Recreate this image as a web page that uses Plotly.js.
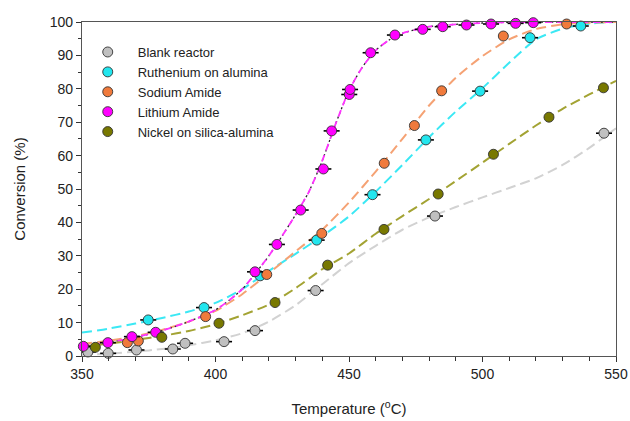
<!DOCTYPE html>
<html>
<head>
<meta charset="utf-8">
<script src="https://cdn.plot.ly/plotly-3.0.1.min.js"></script>
<style>html,body{margin:0;padding:0;background:#fff;}#chart{width:630px;height:421px;}</style>
</head>
<body>
<div id="chart"></div>
<script>
// ---- measured points ----
const blankX = [352.2, 359.8, 370.4, 384.0, 388.6, 403.2, 414.8, 437.5, 482.2, 545.5];
const blankY = [1.2, 0.8, 1.8, 2.1, 3.8, 4.3, 7.6, 19.6, 41.9, 66.7];
const rutX = [374.8, 395.7, 416.7, 437.9, 458.8, 478.8, 499.1, 517.8, 536.8];
const rutY = [10.8, 14.5, 24.0, 34.7, 48.3, 64.7, 79.3, 95.3, 98.8];
const sodX = [367.0, 371.1, 396.3, 419.2, 439.8, 463.2, 474.5, 484.7, 507.8, 531.5];
const sodY = [4.0, 4.5, 11.8, 24.4, 36.7, 57.7, 69.0, 79.4, 95.8, 99.4];
const litX = [350.5, 359.7, 368.7, 377.6, 414.8, 423.0, 431.9, 440.4, 443.5, 450.1, 450.4, 458.1, 467.2, 477.6, 485.1, 494.0, 503.2, 512.4, 519.0];
const litY = [2.9, 4.0, 5.8, 7.1, 25.2, 33.4, 43.7, 56.0, 67.4, 78.3, 79.8, 90.8, 96.1, 97.8, 98.6, 99.1, 99.4, 99.6, 99.8];
const nicX = [355.0, 379.9, 401.3, 422.3, 442.0, 463.1, 483.4, 504.1, 524.9, 545.3];
const nicY = [2.6, 5.6, 9.8, 16.0, 27.2, 37.9, 48.5, 60.4, 71.5, 80.3];

// horizontal error (temperature, degC)
const blankErr = 3, rutErr = 3, sodErr = 0, litErr = 3, nicErr = 0;

// ---- fitted curves ----
const fitX = [350,360,370,380,390,400,410,420,430,440,450,460,470,480,490,500,510,520,530,540,550];
const blankFit = [0.3,0.7,1.3,2.1,3.2,4.7,6.8,10.3,15.2,21.5,27.8,33.0,37.8,41.5,44.6,47.5,50.3,53.2,57.2,62.3,68.2];
const rutFit   = [7.0,8.2,9.7,11.4,13.3,15.9,20.0,25.5,30.6,35.9,41.8,49.2,57.2,65.5,73.2,80.2,87.8,94.8,98.0,99.5,100];
const sodFit   = [3.6,4.6,5.9,7.8,10.3,13.5,18.5,24.8,31.3,37.8,46.0,55.2,65.0,75.0,83.3,89.8,94.8,97.9,99.3,99.8,100];
const nicFit   = [2.8,3.7,4.8,6.0,7.5,9.5,12.2,15.4,20.3,26.0,30.7,36.6,41.9,47.0,52.4,57.9,63.5,69.0,74.0,78.3,82.4];
const litFitX  = [350,360,370,380,390,400,405,410,415,420,425,430,435,440,445,450,455,460,465,470,480,490,500,510,520,530,540,550];
const litFit   = [3.0,4.0,5.6,7.6,10.3,13.8,16.6,20.0,24.8,30.0,36.0,42.3,49.2,58.5,69.5,79.5,86.5,91.5,94.6,96.6,98.6,99.3,99.7,99.9,100,100,100,100];

const names = ['Blank reactor','Ruthenium on alumina','Sodium Amide','Lithium Amide','Nickel on silica-alumina'];
const fillCol = ['#c0c0c0','#22e6ee','#f07a3c','#ff00ff','#787800'];
const lineCol = ['#d2d2d2','#3be8f4','#f5a274','#ff33ff','#a3a333'];

const ptsX = [blankX, rutX, sodX, litX, nicX];
const ptsY = [blankY, rutY, sodY, litY, nicY];
const errs = [blankErr, rutErr, sodErr, litErr, nicErr];
const fitXs = [fitX, fitX, fitX, litFitX, fitX];
const fitYs = [blankFit, rutFit, sodFit, litFit, nicFit];

const traces = [];
// fitted curves
for (let i = 0; i < 5; i++) {
  if (i === 3) {
    traces.push({x: fitXs[i], y: fitYs[i], mode: 'lines', type: 'scatter', showlegend: false,
      hoverinfo: 'skip', line: {color: '#222', width: 1.3, dash: '2px,3px', shape: 'spline', smoothing: 0.6}});
    traces.push({x: fitXs[i], y: fitYs[i], mode: 'lines', type: 'scatter', showlegend: false,
      hoverinfo: 'skip', line: {color: lineCol[i], width: 1.8, dash: '7px,5px', shape: 'spline', smoothing: 0.6}});
  } else {
    traces.push({x: fitXs[i], y: fitYs[i], mode: 'lines', type: 'scatter', showlegend: false,
      hoverinfo: 'skip', line: {color: lineCol[i], width: 2, dash: '10px,5px', shape: 'spline', smoothing: 0.6}});
  }
}
// points
for (let i = 0; i < 5; i++) {
  traces.push({
    x: ptsX[i], y: ptsY[i], name: names[i], type: 'scatter', mode: 'markers',
    cliponaxis: false,
    marker: {color: fillCol[i], size: 10, line: {color: '#333', width: 0.9}},
    error_x: {type: 'constant', value: errs[i], visible: errs[i] > 0, color: '#000', thickness: 1.6, width: 0}
  });
}

const layout = {
  width: 630, height: 421,
  margin: {l: 82, r: 14, t: 22, b: 65},
  paper_bgcolor: '#fff', plot_bgcolor: '#fff',
  font: {family: '"Liberation Sans", Arial, sans-serif', size: 14, color: '#222'},
  showlegend: true,
  legend: {x: -0.008, y: 0.955, xanchor: 'left', yanchor: 'top', bgcolor: 'rgba(0,0,0,0)',
    font: {size: 13, color: '#222'}, itemwidth: 50},
  xaxis: {range: [350, 550], tickvals: [350,400,450,500,550], showgrid: false, zeroline: false,
    showline: true, linecolor: '#555', linewidth: 1.2, mirror: true,
    ticks: 'outside', ticklen: 5, tickcolor: '#333',
    minor: {dtick: 10, ticks: 'outside', ticklen: 4, tickcolor: '#333', showgrid: false},
    tickfont: {size: 14},
    title: {text: 'Temperature (<sup>o</sup>C)', font: {size: 15}, standoff: 22}},
  yaxis: {range: [0, 100], dtick: 10, showgrid: false, zeroline: false,
    showline: true, linecolor: '#555', linewidth: 1.2, mirror: true,
    ticks: 'outside', ticklen: 5, tickcolor: '#333',
    minor: {dtick: 5, ticks: 'outside', ticklen: 3, tickcolor: '#333', showgrid: false},
    tickfont: {size: 14},
    title: {text: 'Conversion (%)', font: {size: 15}, standoff: 20}}
};

Plotly.newPlot('chart', traces, layout, {displayModeBar: false, staticPlot: true});
</script>
</body>
</html>
